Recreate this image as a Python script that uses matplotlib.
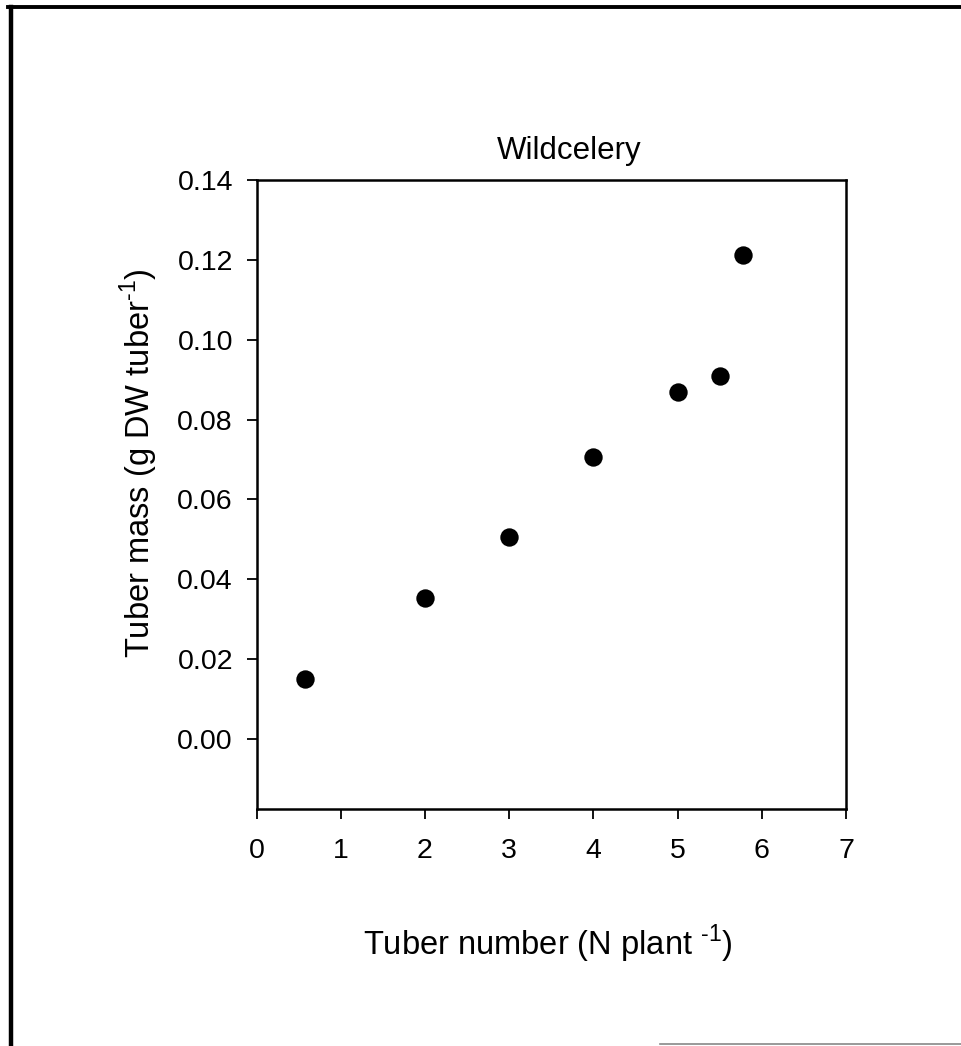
import matplotlib
matplotlib.use("Agg")
import matplotlib.pyplot as plt
from matplotlib.lines import Line2D
from matplotlib.ticker import FormatStrFormatter

# Data
tuber_number = [0.58, 2.0, 3.0, 4.0, 5.0, 5.5, 5.78]
tuber_mass = [0.0150, 0.0353, 0.0506, 0.0707, 0.0868, 0.0909, 0.1211]
x_ticks = [0, 1, 2, 3, 4, 5, 6, 7]
y_ticks = [0.00, 0.02, 0.04, 0.06, 0.08, 0.10, 0.12, 0.14]
title = "Wildcelery"
x_label = "Tuber number (N plant $^{\\mathregular{\u20101}}$)"
y_label = "Tuber mass (g DW tuber$^{\\mathregular{\u20101}}$)"

plt.rcParams['font.family'] = ['Liberation Sans', 'DejaVu Sans']
plt.rcParams['mathtext.fontset'] = 'custom'
plt.rcParams['mathtext.rm'] = 'Liberation Sans'

W, H = 961, 1046
fig = plt.figure(figsize=(W / 100, H / 100), dpi=100)
fig.patch.set_facecolor('white')

left, right, top, bottom = 256.5, 846, 180, 809
ax = fig.add_axes([left / W, 1 - bottom / H, (right - left) / W, (bottom - top) / H])

ax.scatter(tuber_number, tuber_mass, s=175, color='black', zorder=3, linewidths=0)

ax.set_xlim(0, 7)
ax.set_ylim(-0.0175, 0.14)
ax.set_xticks(x_ticks)
ax.set_yticks(y_ticks)
ax.yaxis.set_major_formatter(FormatStrFormatter('%.2f'))

for sp in ax.spines.values():
    sp.set_linewidth(1.8)
    sp.set_color('black')

ax.tick_params(axis='both', direction='out', length=7, width=1.3,
               labelsize=20.5, top=False, right=False, colors='black')
ax.tick_params(axis='y', pad=10)
ax.tick_params(axis='x', pad=14)

ax.text(0.530, 1.0334, title, transform=ax.transAxes, ha='center',
        va='baseline', fontsize=22.5)

ax.set_xlabel(x_label, fontsize=23.5)
ax.xaxis.label.set_verticalalignment('baseline')
ax.xaxis.set_label_coords(0.494, -0.232)

ax.set_ylabel(y_label, fontsize=23.5)
ax.yaxis.label.set_verticalalignment('baseline')
ax.yaxis.set_label_coords(-0.1807, 0.550)

# Outer frame (top and left edges, faint partial bottom)
fig.add_artist(Line2D([8 / W, 1.0], [1 - 7 / H, 1 - 7 / H], color='black',
                      linewidth=2.8, transform=fig.transFigure))
fig.add_artist(Line2D([11 / W, 11 / W], [1 - 7 / H, 0.0], color='black',
                      linewidth=3.2, transform=fig.transFigure))
fig.add_artist(Line2D([660 / W, 1.0], [1 - 1044 / H, 1 - 1044 / H], color='#888888',
                      linewidth=1.2, transform=fig.transFigure))

fig.savefig('out.png', dpi=100, facecolor='white')
